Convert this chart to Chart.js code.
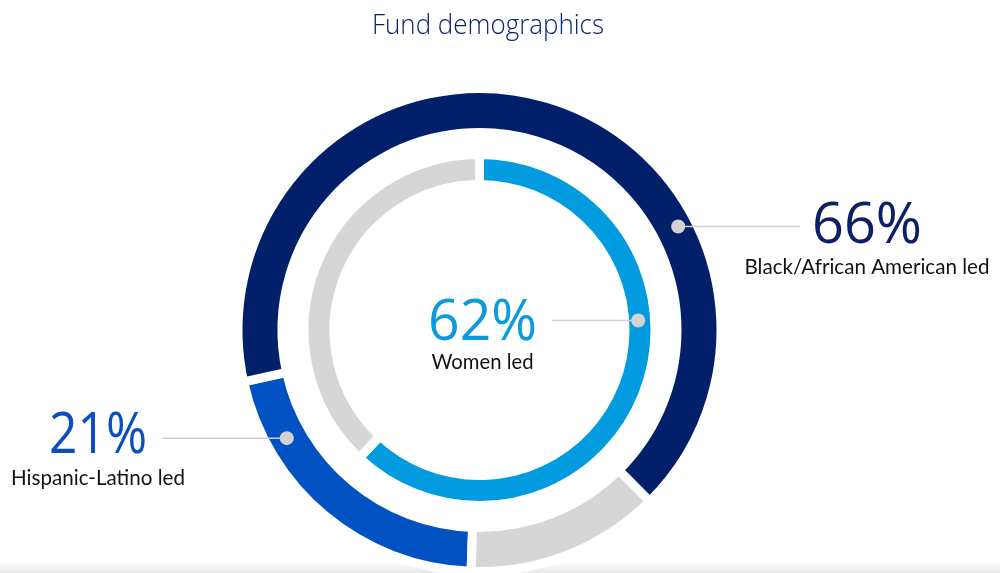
<!DOCTYPE html>
<html>
<head>
<meta charset="utf-8">
<script src="https://cdn.jsdelivr.net/npm/chart.js@4.4.1/dist/chart.umd.min.js"></script>
<style>
  html, body { margin: 0; padding: 0; background: #ffffff; }
  #wrap {
    position: relative; width: 1000px; height: 573px; overflow: hidden;
    background: linear-gradient(to bottom, rgba(255,255,255,0) 0px, rgba(255,255,255,0) 562px, #e9e9e9 573px);
  }
  canvas { display: block; }
</style>
</head>
<body>
<div id="wrap"><canvas id="c" width="1000" height="573"></canvas></div>
<script>
// ---- data ----
const chartTitle = 'Fund demographics';
const outerCategories = ['Hispanic-Latino led', 'Black/African American led', 'Other'];
const outerValues = [21, 66, 13];
const innerCategories = ['Women led', 'Other'];
const innerValues = [62, 38];

// ---- styling / layout ----
const outerColors = ['#0051c1', '#02206a', '#d6d6d6'];
const innerColors = ['#039be0', '#d6d6d6'];

const callouts = [
  { label: outerCategories[1], value: outerValues[1], color: '#0c1f64',
    angle: 62.5, r: 224, lineEnd: 800, x: 867, y1: 243, y2: 274, w1: 110, w2: 245 },
  { label: innerCategories[0], value: innerValues[0], color: '#0a9bdc',
    angle: 86.6, r: 159, lineEnd: 552, x: 482.5, y1: 340, y2: 369, w1: 109, w2: 102 },
  { label: outerCategories[0], value: outerValues[0], color: '#0a4fc2',
    angle: 240.7, r: 221, lineEnd: 162, x: 98, y1: 453, y2: 485, w1: 98, w2: 174 }
];

const calloutPlugin = {
  id: 'callouts',
  afterDatasetsDraw(chart) {
    const ctx = chart.ctx;
    const arc = chart.getDatasetMeta(0).data[0];
    const cx = arc.x, cy = arc.y;
    ctx.save();
    ctx.textAlign = 'center';
    ctx.textBaseline = 'alphabetic';
    ctx.fillStyle = '#0b2270';
    ctx.font = '300 27px "Open Sans", "Noto Sans", sans-serif';
    ctx.fillText(chartTitle, 488, 34, 232);

    callouts.forEach(c => {
      const a = c.angle * Math.PI / 180;
      const px = cx + c.r * Math.sin(a);
      const py = cy - c.r * Math.cos(a);
      ctx.strokeStyle = '#cfcfcf';
      ctx.lineWidth = 1.5;
      ctx.beginPath();
      ctx.moveTo(c.lineEnd, py);
      ctx.lineTo(px, py);
      ctx.stroke();
      ctx.fillStyle = '#d3d3d3';
      ctx.beginPath();
      ctx.arc(px, py, 7, 0, Math.PI * 2);
      ctx.fill();

      ctx.fillStyle = c.color;
      ctx.font = '400 57px "Open Sans", "Noto Sans", sans-serif';
      ctx.fillText(c.value + '%', c.x, c.y1, c.w1);
      ctx.fillStyle = '#121212';
      ctx.font = '400 21px Lato, "Open Sans", sans-serif';
      ctx.fillText(c.label, c.x, c.y2, c.w2);
    });
    ctx.restore();
  }
};

new Chart(document.getElementById('c'), {
  type: 'doughnut',
  data: {
    labels: outerCategories,
    datasets: [
      { label: 'Ethnicity', data: outerValues, backgroundColor: outerColors,
        borderColor: '#ffffff', borderWidth: 9, rotation: 182, weight: 44, clip: false },
      { label: 'spacer', data: [1], backgroundColor: 'rgba(0,0,0,0)',
        borderWidth: 0, weight: 22, clip: false },
      { label: 'Gender', data: innerValues, backgroundColor: innerColors,
        borderColor: '#ffffff', borderWidth: 9, rotation: 0, weight: 30, clip: false }
    ]
  },
  options: {
    responsive: false,
    animation: false,
    events: [],
    radius: 241.5,
    cutout: '60.25%',
    layout: { padding: { left: 0, right: 41, top: 87, bottom: 0 } },
    plugins: {
      legend: { display: false },
      tooltip: { enabled: false },
      title: { display: false }
    }
  },
  plugins: [calloutPlugin]
});
</script>
</body>
</html>
